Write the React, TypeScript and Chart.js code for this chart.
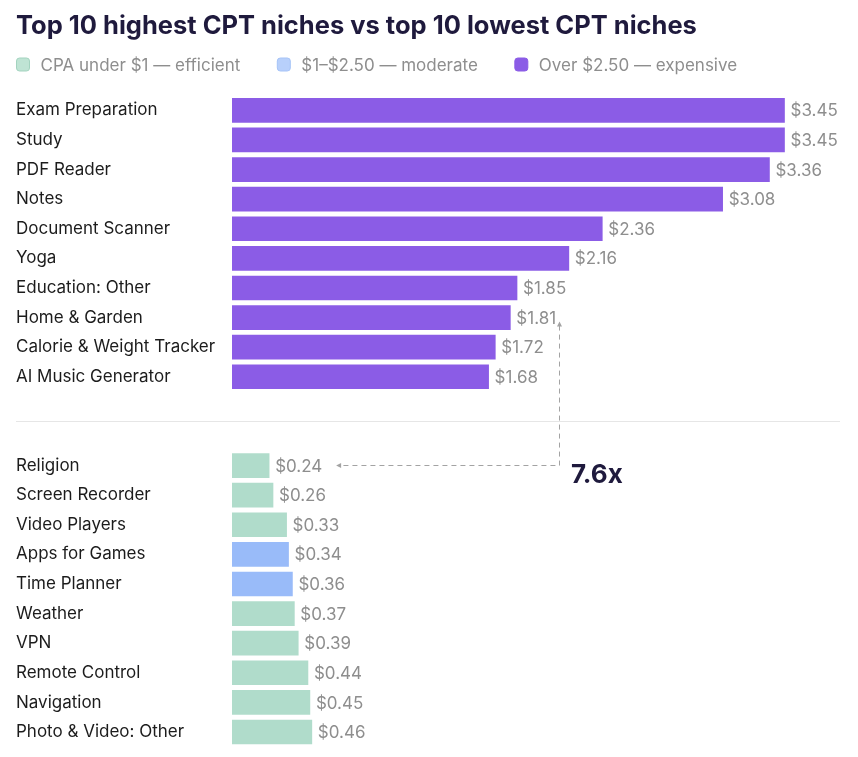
import { useEffect, useRef } from 'react';
import { Chart, registerables } from 'chart.js';

Chart.register(...registerables);

const TITLE = 'Top 10 highest CPT niches vs top 10 lowest CPT niches';

const LEGEND_LABELS = ['CPA under $1 — efficient', '$1–$2.50 — moderate', 'Over $2.50 — expensive'];
const LEGEND_TIERS = ['efficient', 'moderate', 'expensive'];

const TOP_LABELS = [
  'Exam Preparation',
  'Study',
  'PDF Reader',
  'Notes',
  'Document Scanner',
  'Yoga',
  'Education: Other',
  'Home & Garden',
  'Calorie & Weight Tracker',
  'AI Music Generator',
];
const TOP_VALUES = [3.45, 3.45, 3.36, 3.08, 2.36, 2.16, 1.85, 1.81, 1.72, 1.68];
const TOP_TIERS = [
  'expensive', 'expensive', 'expensive', 'expensive', 'expensive',
  'expensive', 'expensive', 'expensive', 'expensive', 'expensive',
];

const SPACER_LABELS = ['', ''];

const BOTTOM_LABELS = [
  'Religion',
  'Screen Recorder',
  'Video Players',
  'Apps for Games',
  'Time Planner',
  'Weather',
  'VPN',
  'Remote Control',
  'Navigation',
  'Photo & Video: Other',
];
const BOTTOM_VALUES = [0.24, 0.26, 0.33, 0.34, 0.36, 0.37, 0.39, 0.44, 0.45, 0.46];
const BOTTOM_TIERS = [
  'efficient', 'efficient', 'efficient', 'moderate', 'moderate',
  'efficient', 'efficient', 'efficient', 'efficient', 'efficient',
];

const RATIO_LABEL = '7.6x';
const ARROW_FROM = 'Home & Garden';
const ARROW_TO = 'Religion';

// scale domains for the two groups
const TOP_AXIS_MIN = 0.145;
const TOP_AXIS_MAX = 3.782;
const BOTTOM_AXIS_MIN = 0.0487;
const BOTTOM_AXIS_MAX = 3.181;

const TIER_FILL: Record<string, string> = {
  efficient: '#b0dccb',
  moderate: '#99bbf9',
  expensive: '#8b5ce6',
};
const LEGEND_FILL: Record<string, string> = {
  efficient: '#bfe4d4',
  moderate: '#b8d0fb',
  expensive: '#8b5ce6',
};
const LEGEND_STROKE: Record<string, string> = {
  efficient: '#a3d3bf',
  moderate: '#a6c3f7',
  expensive: '#8b5ce6',
};

const FONT = 'Inter';
const DARK = '#1f1a3d';
const LABEL_COLOR = '#1c1c1c';
const GRAY = '#8e8e8e';

const fmt = (v: number) => '$' + v.toFixed(2);

export default function App() {
  const ref = useRef<HTMLCanvasElement | null>(null);

  useEffect(() => {
    if (!ref.current) return;
    const labels = [...TOP_LABELS, ...SPACER_LABELS, ...BOTTOM_LABELS];
    const nTop = TOP_LABELS.length;
    const nSpacer = SPACER_LABELS.length;
    const nullsFor = (n: number) => Array(n).fill(null);

    const topData = [...TOP_VALUES, ...nullsFor(nSpacer + BOTTOM_VALUES.length)];
    const bottomData = [...nullsFor(nTop + nSpacer), ...BOTTOM_VALUES];
    const topColors = [...TOP_TIERS.map((t) => TIER_FILL[t]), ...nullsFor(nSpacer + BOTTOM_VALUES.length).map(() => 'transparent')];
    const bottomColors = [...nullsFor(nTop + nSpacer).map(() => 'transparent'), ...BOTTOM_TIERS.map((t) => TIER_FILL[t])];

    const valueLabels = {
      id: 'valueLabels',
      afterDatasetsDraw(chart: any) {
        const ctx = chart.ctx;
        ctx.save();
        ctx.font = `400 17px ${FONT}`;
        ctx.fillStyle = GRAY;
        ctx.textAlign = 'left';
        ctx.textBaseline = 'middle';
        chart.data.datasets.forEach((ds: any, di: number) => {
          const meta = chart.getDatasetMeta(di);
          meta.data.forEach((el: any, i: number) => {
            const v = ds.data[i];
            if (v === null || v === undefined) return;
            ctx.fillText(fmt(v), el.x + 6, el.y + 1);
          });
        });
        ctx.restore();
      },
    };

    const separator = {
      id: 'separator',
      beforeDatasetsDraw(chart: any) {
        const ctx = chart.ctx;
        const y = chart.scales.y;
        const py = (y.getPixelForValue(nTop) + y.getPixelForValue(nTop + nSpacer - 1)) / 2;
        ctx.save();
        ctx.strokeStyle = '#e6e6e6';
        ctx.lineWidth = 1;
        ctx.beginPath();
        ctx.moveTo(chart.options.layout.padding.left, Math.round(py) + 0.5);
        ctx.lineTo(chart.chartArea.right, Math.round(py) + 0.5);
        ctx.stroke();
        ctx.restore();
      },
    };

    const arrow = {
      id: 'ratioArrow',
      afterDatasetsDraw(chart: any) {
        const ctx = chart.ctx;
        const iFrom = labels.indexOf(ARROW_FROM);
        const iTo = labels.indexOf(ARROW_TO);
        const fromEl = chart.getDatasetMeta(0).data[iFrom];
        const toEl = chart.getDatasetMeta(1).data[iTo];
        ctx.save();
        const lx = Math.round(fromEl.x + 49) + 0.5;
        const topY = fromEl.y + 4;
        const cy = Math.round(toEl.y) - 0.5;
        const tipX = toEl.x + 67;
        ctx.strokeStyle = '#a3a3a3';
        ctx.fillStyle = '#a3a3a3';
        ctx.lineWidth = 1;
        ctx.setLineDash([5, 4]);
        ctx.beginPath();
        ctx.moveTo(lx, topY + 4);
        ctx.lineTo(lx, cy);
        ctx.lineTo(tipX + 4, cy);
        ctx.stroke();
        ctx.setLineDash([]);
        // up arrow head
        ctx.beginPath();
        ctx.moveTo(lx, topY);
        ctx.lineTo(lx - 2.5, topY + 5);
        ctx.lineTo(lx + 2.5, topY + 5);
        ctx.closePath();
        ctx.fill();
        // left arrow head
        ctx.beginPath();
        ctx.moveTo(tipX, cy);
        ctx.lineTo(tipX + 5, cy - 2.5);
        ctx.lineTo(tipX + 5, cy + 2.5);
        ctx.closePath();
        ctx.fill();
        // ratio label
        ctx.font = `700 26px ${FONT}`;
        ctx.fillStyle = DARK;
        ctx.textAlign = 'left';
        ctx.textBaseline = 'alphabetic';
        ctx.fillText(RATIO_LABEL, lx + 11.5, cy + 17.5);
        ctx.restore();
      },
    };

    const customLegend = {
      id: 'customLegend',
      afterDraw(chart: any) {
        const ctx = chart.ctx;
        ctx.save();
        ctx.font = `400 17px ${FONT}`;
        ctx.textBaseline = 'middle';
        ctx.textAlign = 'left';
        let x = chart.options.layout.padding.left;
        const cy = 56.5;
        LEGEND_LABELS.forEach((label, i) => {
          const tier = LEGEND_TIERS[i];
          ctx.fillStyle = LEGEND_FILL[tier];
          ctx.strokeStyle = LEGEND_STROKE[tier];
          ctx.lineWidth = 1;
          ctx.beginPath();
          (ctx as any).roundRect(x + 0.5, cy - 6.5, 13, 13, 3);
          ctx.fill();
          ctx.stroke();
          ctx.fillStyle = GRAY;
          const tx = x + 24.5;
          ctx.fillText(label, tx, cy + 1);
          x = tx + ctx.measureText(label).width + 36.5;
        });
        ctx.restore();
      },
    };

    const chart = new Chart(ref.current, {
      type: 'bar',
      data: {
        labels,
        datasets: [
          {
            label: 'Highest CPT',
            data: topData,
            backgroundColor: topColors,
            xAxisID: 'x',
            grouped: false,
            barThickness: 24,
            borderWidth: 0,
            base: TOP_AXIS_MIN,
          } as any,
          {
            label: 'Lowest CPT',
            data: bottomData,
            backgroundColor: bottomColors,
            xAxisID: 'x2',
            grouped: false,
            barThickness: 24,
            borderWidth: 0,
            base: BOTTOM_AXIS_MIN,
          } as any,
        ],
      },
      options: {
        indexAxis: 'y',
        animation: false,
        responsive: true,
        maintainAspectRatio: false,
        layout: { padding: { left: 8, right: 10, top: 0, bottom: 7.4 } },
        plugins: {
          legend: { display: false },
          tooltip: { enabled: false },
          title: {
            display: true,
            text: TITLE,
            align: 'start',
            color: DARK,
            font: { family: FONT, size: 25.5, weight: 700, lineHeight: 1.2 },
            padding: { top: 3, bottom: 53.95 },
          },
        },
        scales: {
          y: {
            type: 'category',
            grid: { display: false },
            border: { display: false },
            ticks: {
              autoSkip: false,
              crossAlign: 'far',
              padding: 0,
              color: LABEL_COLOR,
              font: { family: FONT, size: 17 },
            },
            afterFit(axis: any) {
              axis.width = 216;
            },
          },
          x: {
            type: 'linear',
            display: false,
            min: TOP_AXIS_MIN,
            max: TOP_AXIS_MAX,
          },
          x2: {
            type: 'linear',
            display: false,
            min: BOTTOM_AXIS_MIN,
            max: BOTTOM_AXIS_MAX,
          },
        },
      } as any,
      plugins: [separator, valueLabels, arrow, customLegend],
    });
    return () => chart.destroy();
  }, []);

  return (
    <div style={{ width: 842, height: 749, position: 'relative' }}>
      <canvas ref={ref} />
    </div>
  );
}
